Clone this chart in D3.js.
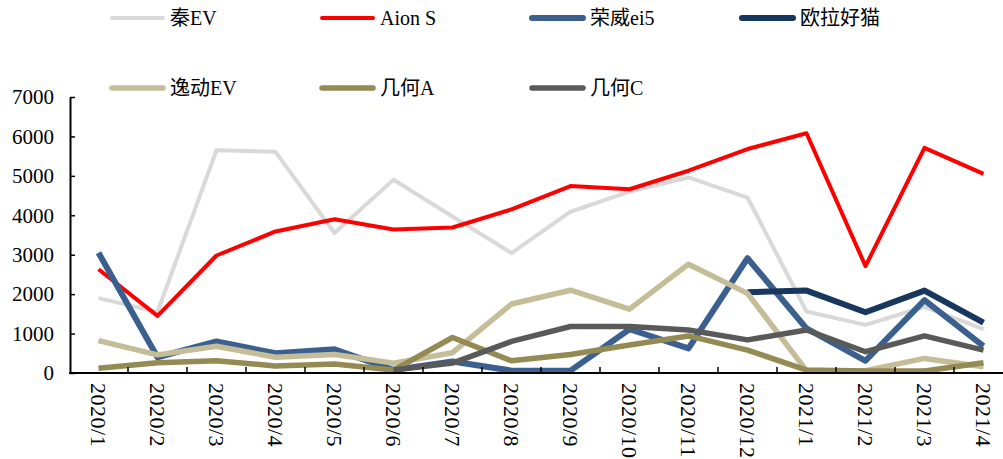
<!DOCTYPE html>
<html lang="zh">
<head>
<meta charset="utf-8">
<title>销量走势</title>
<script src="https://cdn.jsdelivr.net/npm/d3@7/dist/d3.min.js"></script>
<style>
  body { margin: 0; background: #fff; }
  svg { display: block; }
  text { font-family: "Times New Roman", "Liberation Serif", "Noto Sans CJK SC", serif; fill: #000; }
</style>
</head>
<body>
<script>
var months = ["2020/1", "2020/2", "2020/3", "2020/4", "2020/5", "2020/6", "2020/7", "2020/8",
  "2020/9", "2020/10", "2020/11", "2020/12", "2021/1", "2021/2", "2021/3", "2021/4"];
var yTicks = [0, 1000, 2000, 3000, 4000, 5000, 6000, 7000];

var qinEV  = [1900, 1550, 5650, 5610, 3550, 4900, 3970, 3040, 4090, 4600, 4960, 4450, 1560, 1220, 1680, 1110];
var aionS  = [2630, 1450, 2980, 3590, 3900, 3640, 3690, 4150, 4740, 4660, 5130, 5680, 6080, 2710, 5710, 5050];
var roewe  = [3050, 400, 800, 500, 600, 80, 290, 60, 60, 1110, 625, 2910, 1130, 310, 1850, 680];
var oraCat = [null, null, null, null, null, null, null, null, null, null, null, 2050, 2090, 1540, 2090, 1280];
var yidong = [820, 460, 680, 400, 470, 250, 515, 1750, 2100, 1620, 2760, 2020, 60, 60, 370, 160];
var geomA  = [120, 260, 310, 180, 230, 75, 900, 310, 470, 710, 940, 580, 75, 50, 50, 260];
var geomC  = [null, null, null, null, null, 75, 250, 800, 1180, 1180, 1090, 840, 1090, 540, 940, 580];

var series = [
  { name: "秦EV", values: qinEV, color: "#d9d9d9", width: 4 },
  { name: "Aion S", values: aionS, color: "#ff0000", width: 4 },
  { name: "荣威ei5", values: roewe, color: "#3b6090", width: 6 },
  { name: "欧拉好猫", values: oraCat, color: "#17375e", width: 6 },
  { name: "逸动EV", values: yidong, color: "#c4bd97", width: 5.5 },
  { name: "几何A", values: geomA, color: "#948a54", width: 5.5 },
  { name: "几何C", values: geomC, color: "#595959", width: 5.5 }
];

var w = 1003, h = 459;
var svg = d3.select("body").append("svg").attr("width", w).attr("height", h);

var x = d3.scaleBand().domain(months).range([69, 1013]).padding(0);
var y = d3.scaleLinear().domain([0, 7000]).range([373, 97]);

// lines
var line = d3.line()
  .defined(function(d) { return d != null; })
  .x(function(d, i) { return x(months[i]) + x.bandwidth() / 2; })
  .y(function(d) { return y(d); });

svg.selectAll("path.series")
  .data(series)
  .enter()
  .append("path")
  .attr("class", "series")
  .attr("fill", "none")
  .attr("stroke", function(d) { return d.color; })
  .attr("stroke-width", function(d) { return d.width; })
  .attr("stroke-linejoin", "round")
  .attr("d", function(d) { return line(d.values); });

// y axis
var yAxis = svg.append("g")
  .attr("transform", "translate(70,0)")
  .call(d3.axisLeft(y).tickValues(yTicks).tickSizeInner(-5).tickSizeOuter(0).tickPadding(16).tickFormat(d3.format("d")));
yAxis.select(".domain").attr("stroke", "#000").attr("stroke-width", 2);
yAxis.selectAll(".tick line").attr("stroke", "#000").attr("stroke-width", 1.5);
yAxis.selectAll("text").attr("font-size", "21px").attr("font-family", null);

// x axis
var xAxis = svg.append("g")
  .attr("transform", "translate(0,373)")
  .call(d3.axisBottom(x).tickSize(0).tickSizeOuter(0));
xAxis.select(".domain").attr("stroke", "#000").attr("stroke-width", 2)
  .attr("d", "M69,0H" + w);
xAxis.selectAll("text")
  .attr("font-size", "22px")
  .attr("font-family", null)
  .attr("transform", "rotate(90)")
  .attr("x", 10)
  .attr("y", 0)
  .attr("dy", "0.35em")
  .attr("text-anchor", "start")
  .attr("letter-spacing", "0.5px");

// boundary ticks between months
svg.append("g").selectAll("line")
  .data(months.slice(1))
  .enter()
  .append("line")
  .attr("x1", function(d) { return x(d); })
  .attr("x2", function(d) { return x(d); })
  .attr("y1", 373)
  .attr("y2", 367)
  .attr("stroke", "#000")
  .attr("stroke-width", 1.5);

// legend
var legendPos = [[110, 18], [320, 18], [530, 18], [740, 18], [110, 88], [320, 88], [530, 88]];
var legend = svg.selectAll("g.legend")
  .data(series)
  .enter()
  .append("g")
  .attr("class", "legend")
  .attr("transform", function(d, i) { return "translate(" + legendPos[i][0] + "," + legendPos[i][1] + ")"; });

legend.append("line")
  .attr("x1", 2).attr("x2", 53)
  .attr("y1", 0).attr("y2", 0)
  .attr("stroke", function(d) { return d.color; })
  .attr("stroke-width", function(d) { return d.width; })
  .attr("stroke-linecap", "round");

legend.append("text")
  .attr("x", 60)
  .attr("y", 7)
  .attr("font-size", "20px")
  .text(function(d) { return d.name; });
</script>
</body>
</html>
